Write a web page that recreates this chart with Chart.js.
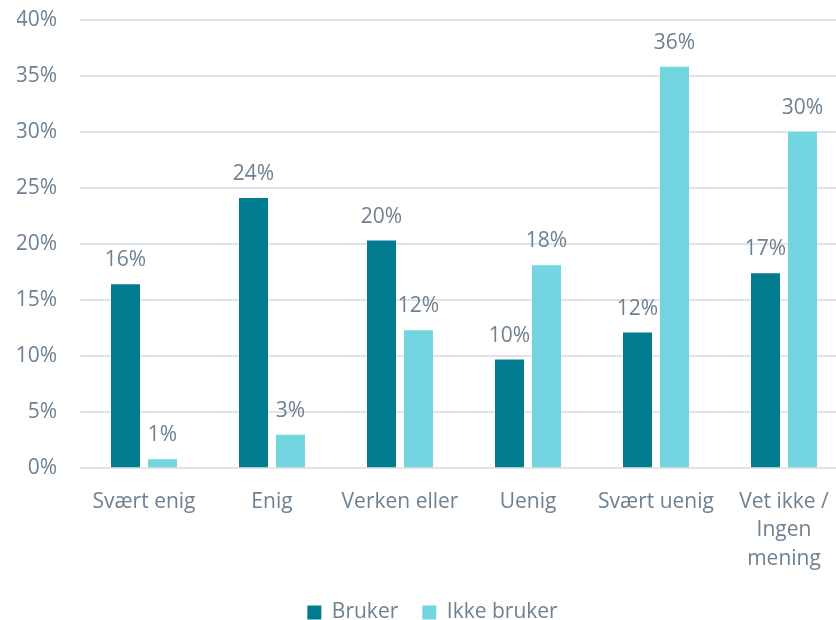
<!DOCTYPE html>
<html>
<head>
<meta charset="utf-8">
<script src="https://cdn.jsdelivr.net/npm/chart.js@4/dist/chart.umd.min.js"></script>
<style>
  html, body { margin: 0; padding: 0; background: #fff; overflow: hidden; }
  #wrap { width: 836px; height: 620px; overflow: hidden; }
  #chart { display: block; margin-top: -16px; }
</style>
</head>
<body>
<div id="wrap"><canvas id="chart" width="848" height="649"></canvas></div>
<script>
// Svarfordeling, brukere vs ikke-brukere (prosent)
const categories = ['Svært enig', 'Enig', 'Verken eller', 'Uenig', 'Svært uenig', ['Vet ikke /', 'Ingen', 'mening']];
const bruker = [16.4, 24.1, 20.3, 9.7, 12.1, 17.4];
const ikkeBruker = [0.8, 3.0, 12.3, 18.1, 35.8, 30.0];
const yTicks = [0, 5, 10, 15, 20, 25, 30, 35, 40];

const TEXT = '#6E8191';
const COLORS = { bruker: '#017B8E', ikke: '#71D6E0', grid: '#E0E4E8' };
const FONT = { family: '"Open Sans", sans-serif', size: 21 };

// value labels above each bar
const barLabels = {
  id: 'barLabels',
  afterDatasetsDraw(chart) {
    const ctx = chart.ctx;
    ctx.save();
    ctx.font = `${FONT.size}px ${FONT.family}`;
    ctx.fillStyle = TEXT;
    ctx.textAlign = 'center';
    ctx.textBaseline = 'alphabetic';
    chart.data.datasets.forEach((ds, i) => {
      chart.getDatasetMeta(i).data.forEach((bar, j) => {
        ctx.fillText(Math.round(ds.data[j]) + '%', bar.x, bar.y - 18);
      });
    });
    ctx.restore();
  }
};

new Chart(document.getElementById('chart'), {
  type: 'bar',
  data: {
    labels: categories,
    datasets: [
      { label: 'Bruker', data: bruker, backgroundColor: COLORS.bruker, categoryPercentage: 0.578, barPercentage: 0.784 },
      { label: 'Ikke bruker', data: ikkeBruker, backgroundColor: COLORS.ikke, categoryPercentage: 0.578, barPercentage: 0.784 }
    ]
  },
  options: {
    responsive: false,
    animation: false,
    layout: { padding: { left: 17, top: 0, right: 0, bottom: 0 } },
    plugins: {
      legend: {
        position: 'bottom',
        labels: { color: TEXT, font: FONT, boxWidth: 14, boxHeight: 14, padding: 24 }
      },
      tooltip: { enabled: false }
    },
    scales: {
      x: {
        afterFit: axis => { axis.height -= 14; },
        grid: { display: false, drawTicks: false },
        border: { display: false },
        ticks: { color: TEXT, font: { ...FONT, lineHeight: 1.36 }, padding: 19, maxRotation: 0, autoSkip: false }
      },
      y: {
        min: 0, max: 40,
        afterBuildTicks: axis => { axis.ticks = yTicks.map(v => ({ value: v })); },
        afterFit: axis => { axis.width = 63; },
        grid: { color: COLORS.grid, lineWidth: 2, drawTicks: false },
        border: { display: false },
        ticks: { color: TEXT, font: FONT, padding: 23, callback: v => v + '%' }
      }
    }
  },
  plugins: [barLabels]
});
</script>
</body>
</html>
